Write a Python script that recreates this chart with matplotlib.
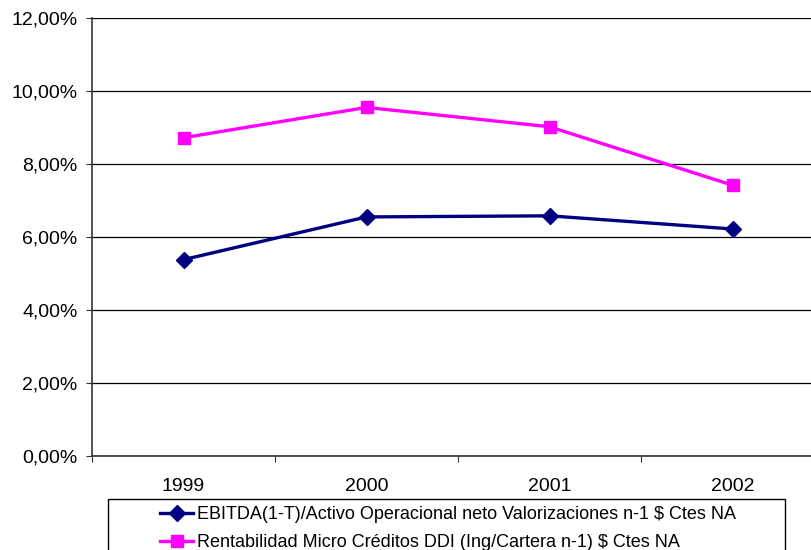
import matplotlib.pyplot as plt
from matplotlib.patches import Rectangle
from matplotlib.ticker import FuncFormatter

plt.rcParams['font.family'] = ['Liberation Sans', 'DejaVu Sans']

# Series values (percent)
years = ['1999', '2000', '2001', '2002']
ebitda = [5.38, 6.55, 6.58, 6.22]
rentabilidad = [8.72, 9.55, 9.02, 7.42]
labels = ['EBITDA(1-T)/Activo Operacional neto Valorizaciones n-1 $ Ctes NA',
          'Rentabilidad Micro Créditos DDI (Ing/Cartera n-1) $ Ctes NA']

W, H = 812, 550
fig = plt.figure(figsize=(W / 100, H / 100), dpi=100)

# plot area runs past the right edge of the figure
ax = fig.add_axes([92 / W, 1 - 456 / H, 732 / W, 438 / H])
x = range(len(years))

ax.plot(x, ebitda, color='#000080', lw=2.4, marker='D', ms=8, label=labels[0])
ax.plot(x, rentabilidad, color='#FF00FF', lw=2.4, marker='s', ms=8.5, label=labels[1])

ax.set_xlim(-0.5, len(years) - 0.5)
ax.set_ylim(0, 12)
ax.set_yticks(range(0, 13, 2))
ax.yaxis.set_major_formatter(FuncFormatter(lambda v, p: f'{v:.2f}%'.replace('.', ',')))
ax.grid(axis='y', color='black', lw=0.9)
ax.set_axisbelow(True)

# boundaries get the tick marks, centres get the labels
ax.set_xticks([i - 0.5 for i in range(len(years) + 1)])
ax.set_xticklabels([])
ax.set_xticks(list(x), minor=True)
ax.set_xticklabels(years, minor=True)
ax.tick_params(axis='x', which='major', direction='out', length=4.5, color='#333333')
ax.tick_params(axis='x', which='minor', length=0, pad=16, labelsize=14)
ax.tick_params(axis='y', direction='out', length=4.5, pad=6, labelsize=14, color='#333333')

for side in ['top', 'right']:
    ax.spines[side].set_visible(False)
for side in ['left', 'bottom']:
    ax.spines[side].set_color('#333333')
    ax.spines[side].set_linewidth(1.2)

# legend box
fig.patches.append(Rectangle((108 / W, 1 - 560 / H), 677 / W, 61 / H, transform=fig.transFigure,
                             facecolor='white', edgecolor='black', lw=1))
fig.legend(loc='upper left', bbox_to_anchor=(160 / W, 1 - 506 / H), frameon=False,
           fontsize=13, handlelength=1.85, handletextpad=0.22, labelspacing=0.6,
           borderpad=0, borderaxespad=0)

fig.savefig('out.png', dpi=100)
